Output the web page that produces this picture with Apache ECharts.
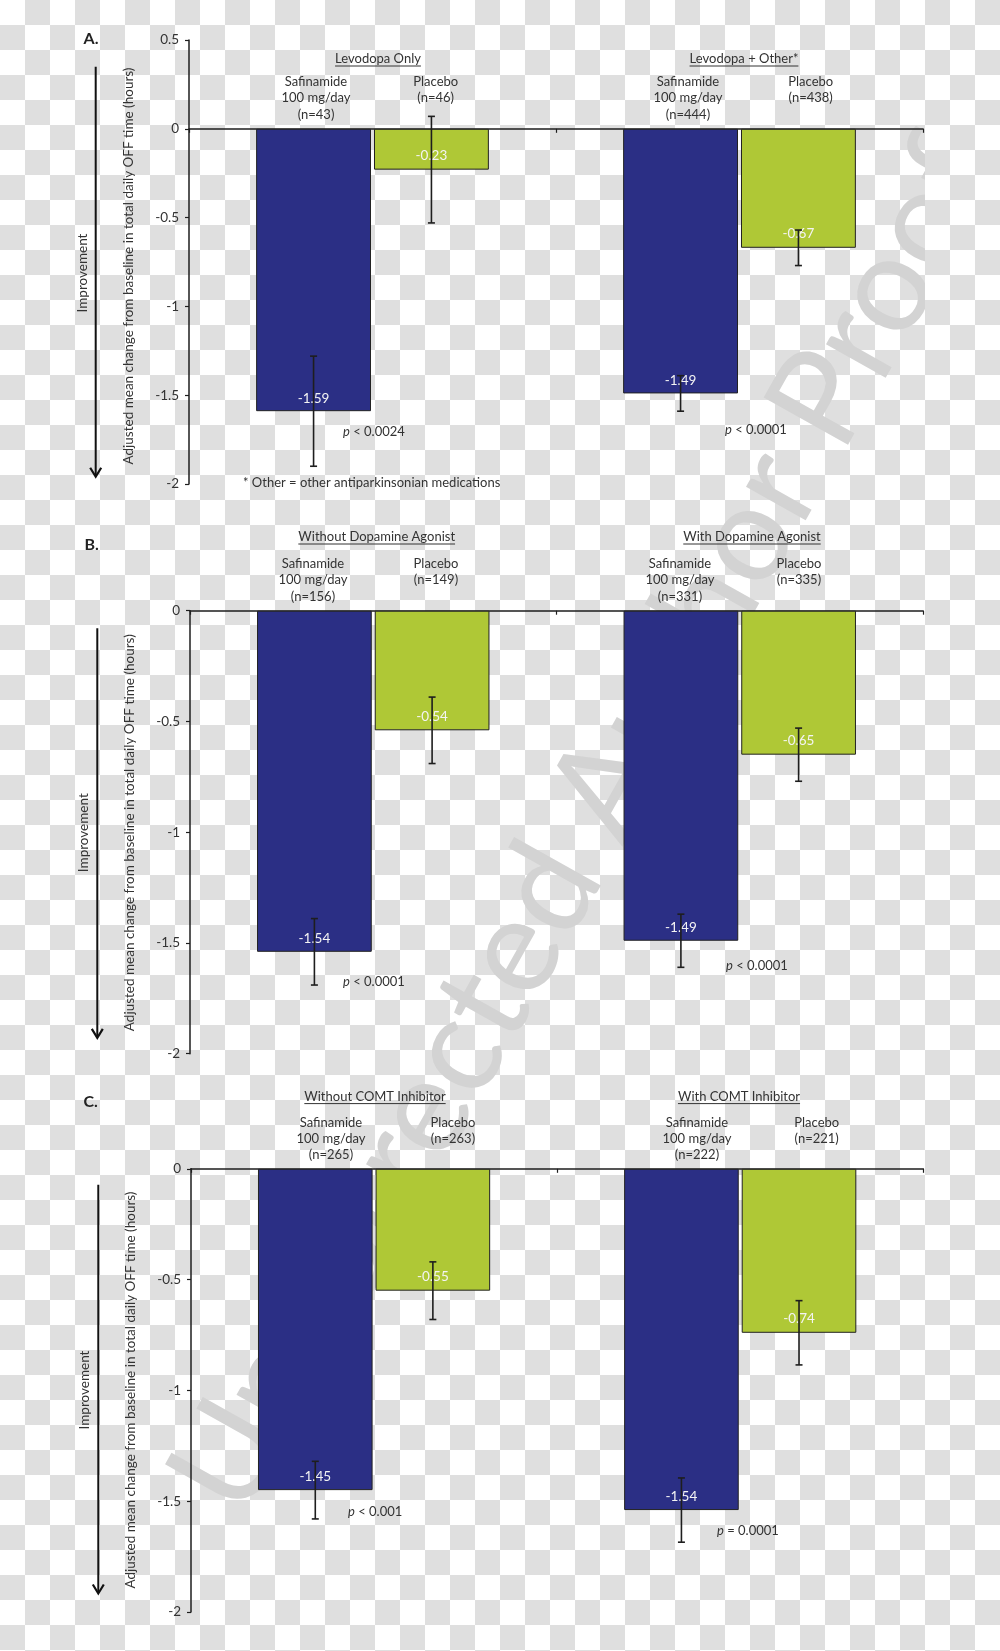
<!DOCTYPE html>
<html><head><meta charset="utf-8">
<script src="https://cdn.jsdelivr.net/npm/echarts@6/dist/echarts.min.js"></script>
<style>
html,body{margin:0;padding:0;}
body{width:1000px;height:1651px;background:repeating-conic-gradient(#dfdfdf 0 25%, #ffffff 0 50%) 0 0/50px 50px;overflow:hidden;}
#chart{width:925px;height:1651px;}
</style></head><body><div id="chart"></div>
<script>
// ---------------- DATA ----------------
const groupTitlesA = ['Levodopa Only', 'Levodopa + Other*'];
const safinamideA = [-1.59, -1.49];
const placeboA = [-0.23, -0.67];
const safinamideErrA = [0.31, 0.10];
const placeboErrA = [0.30, 0.10];
const safinamideNA = ['(n=43)', '(n=444)'];
const placeboNA = ['(n=46)', '(n=438)'];
const pValuesA = ['< 0.0024', '< 0.0001'];

const groupTitlesB = ['Without Dopamine Agonist', 'With Dopamine Agonist'];
const safinamideB = [-1.54, -1.49];
const placeboB = [-0.54, -0.65];
const safinamideErrB = [0.15, 0.12];
const placeboErrB = [0.15, 0.12];
const safinamideNB = ['(n=156)', '(n=331)'];
const placeboNB = ['(n=149)', '(n=335)'];
const pValuesB = ['< 0.0001', '< 0.0001'];

const groupTitlesC = ['Without COMT Inhibitor', 'With COMT Inhibitor'];
const safinamideC = [-1.45, -1.54];
const placeboC = [-0.55, -0.74];
const safinamideErrC = [0.13, 0.145];
const placeboErrC = [0.13, 0.145];
const safinamideNC = ['(n=265)', '(n=222)'];
const placeboNC = ['(n=263)', '(n=221)'];
const pValuesC = ['< 0.001', '= 0.0001'];

const yRangeA = [-2, 0.5];
const yRangeB = [-2, 0];
const yRangeC = [-2, 0];
const yInterval = 0.5;

const safinamideName = 'Safinamide\n100 mg/day';
const placeboName = 'Placebo';
const yAxisTitle = 'Adjusted mean change from baseline in total daily OFF time (hours)';
const improvementText = 'Improvement';
const footnoteText = '* Other = other antiparkinsonian medications';
const watermarkText = 'Uncorrected Author Proof';

// ---------------- LAYOUT / STYLE ----------------
const FONT = 'Lato, "Open Sans", sans-serif';
const TXT = '#333333';
const LINE = '#1e1e1e';
const BLUE = '#2b2f85';
const GREEN = '#afc836';
const BAR_FRAC = 0.313;
const GAP_FRAC = 0.026;

const panels = [
  { letter: 'A.', titles: groupTitlesA, saf: safinamideA, pla: placeboA, safErr: safinamideErrA, plaErr: placeboErrA,
    safN: safinamideNA, plaN: placeboNA, p: pValuesA, yr: yRangeA,
    grid: { left: 189, top: 40, width: 734, height: 444 },
    letterPos: [91, 39], titleY: 59, titleX: [378, 744], subY: 81.7, subDy: 16.5,
    safX: [316, 688], plaX: [435.7, 810.7], pPos: [[343, 432], [725, 430]],
    arrow: [95.7, 66.7, 476.7], impPos: [83, 273], yNamePos: [129, 266] },
  { letter: 'B.', titles: groupTitlesB, saf: safinamideB, pla: placeboB, safErr: safinamideErrB, plaErr: placeboErrB,
    safN: safinamideNB, plaN: placeboNB, p: pValuesB, yr: yRangeB,
    grid: { left: 190, top: 610.7, width: 733, height: 443 },
    letterPos: [91.7, 545], titleY: 537, titleX: [376.7, 752], subY: 563.7, subDy: 16.4,
    safX: [313, 680], plaX: [436, 799], pPos: [[343, 981.8], [726, 966]],
    arrow: [97.3, 628.2, 1037.9], impPos: [84, 832.7], yNamePos: [130, 832.7] },
  { letter: 'C.', titles: groupTitlesC, saf: safinamideC, pla: placeboC, safErr: safinamideErrC, plaErr: placeboErrC,
    safN: safinamideNC, plaN: placeboNC, p: pValuesC, yr: yRangeC,
    grid: { left: 191, top: 1168.8, width: 732.3, height: 443.2 },
    letterPos: [90.7, 1102.2], titleY: 1096.6, titleX: [375, 739], subY: 1122.5, subDy: 16.3,
    safX: [331, 697], plaX: [453, 816.7], pPos: [[348, 1512], [717, 1531.3]],
    arrow: [98.3, 1184.7, 1593.5], impPos: [85, 1390], yNamePos: [130.7, 1390] }
];

const measureCtx = document.createElement('canvas').getContext('2d');
function textWidth(t, font) { measureCtx.font = font; return measureCtx.measureText(t).width; }

const grids = [], xAxes = [], yAxes = [], series = [], graphics = [];

function errorRenderer(side) {
  return function (params, api) {
    const ci = api.value(0), v = api.value(1), e = api.value(2);
    const c = api.coord([ci, v]);
    const catW = api.size([1, 0])[0];
    const bw = catW * BAR_FRAC, gap = bw * GAP_FRAC;
    const x = c[0] + side * (bw + gap) / 2;
    const yT = api.coord([ci, v + e])[1];
    const yB = api.coord([ci, v - e])[1];
    const st = { stroke: LINE, lineWidth: 1.6 };
    return { type: 'group', children: [
      { type: 'line', shape: { x1: x, y1: yT, x2: x, y2: yB }, style: st },
      { type: 'line', shape: { x1: x - 3.5, y1: yT, x2: x + 3.5, y2: yT }, style: st },
      { type: 'line', shape: { x1: x - 3.5, y1: yB, x2: x + 3.5, y2: yB }, style: st }
    ] };
  };
}

panels.forEach((P, gi) => {
  grids.push(Object.assign({ containLabel: false }, P.grid));
  xAxes.push({
    gridIndex: gi, type: 'category', data: P.titles, boundaryGap: true,
    axisLine: { onZero: true, lineStyle: { color: LINE, width: 1.5 } },
    axisTick: { show: true, length: 4, lineStyle: { color: LINE, width: 1.2 } },
    axisLabel: { show: false }, splitLine: { show: false }
  });
  yAxes.push({
    gridIndex: gi, type: 'value', min: P.yr[0], max: P.yr[1], interval: yInterval,
    axisLine: { show: true, onZero: false, lineStyle: { color: LINE, width: 1.5 } },
    axisTick: { show: true, length: 4, lineStyle: { color: LINE, width: 1.2 } },
    axisLabel: { color: TXT, fontSize: 13.5, fontFamily: FONT, margin: 10 },
    splitLine: { show: false }
  });
  const lbl = { show: true, position: 'insideBottom', distance: 6, color: '#f4f4f4', fontSize: 13.5, fontFamily: FONT,
    formatter: p => p.value.toFixed(2) };
  series.push({
    type: 'bar', name: 'Safinamide', xAxisIndex: gi, yAxisIndex: gi, data: P.saf,
    barWidth: (BAR_FRAC * 100) + '%', barGap: (GAP_FRAC * 100) + '%',
    itemStyle: { color: BLUE, borderColor: '#222', borderWidth: 1 }, label: lbl, z: 2
  });
  series.push({
    type: 'bar', name: 'Placebo', xAxisIndex: gi, yAxisIndex: gi, data: P.pla,
    barWidth: (BAR_FRAC * 100) + '%', barGap: (GAP_FRAC * 100) + '%',
    itemStyle: { color: GREEN, borderColor: '#222', borderWidth: 1 }, label: Object.assign({}, lbl, { distance: 7 }), z: 2
  });
  series.push({
    type: 'custom', xAxisIndex: gi, yAxisIndex: gi, z: 5, renderItem: errorRenderer(-1),
    encode: { x: 0, y: 1 }, data: P.saf.map((v, i) => [i, v, P.safErr[i]])
  });
  series.push({
    type: 'custom', xAxisIndex: gi, yAxisIndex: gi, z: 5, renderItem: errorRenderer(1),
    encode: { x: 0, y: 1 }, data: P.pla.map((v, i) => [i, v, P.plaErr[i]])
  });

  graphics.push({ type: 'text', x: P.letterPos[0], y: P.letterPos[1], z: 100,
    style: { text: P.letter, font: 'bold 16px ' + FONT, fill: '#222', align: 'center', verticalAlign: 'middle' } });
  P.titles.forEach((t, i) => {
    const f = '13px ' + FONT;
    const w = textWidth(t, f);
    graphics.push({ type: 'text', x: P.titleX[i], y: P.titleY, z: 100,
      style: { text: t, font: f, fill: TXT, align: 'center', verticalAlign: 'middle' } });
    graphics.push({ type: 'line', z: 100, shape: { x1: P.titleX[i] - w / 2, y1: P.titleY + 7, x2: P.titleX[i] + w / 2, y2: P.titleY + 7 },
      style: { stroke: TXT, lineWidth: 1 } });
    graphics.push({ type: 'text', x: P.safX[i], y: P.subY - P.subDy / 2, z: 100,
      style: { text: safinamideName + '\n' + P.safN[i], font: f, fill: TXT, align: 'center', verticalAlign: 'top', lineHeight: P.subDy } });
    graphics.push({ type: 'text', x: P.plaX[i], y: P.subY - P.subDy / 2, z: 100,
      style: { text: placeboName + '\n' + P.plaN[i], font: f, fill: TXT, align: 'center', verticalAlign: 'top', lineHeight: P.subDy } });
    graphics.push({ type: 'text', x: P.pPos[i][0], y: P.pPos[i][1], z: 100,
      style: { text: '{i|p} ' + P.p[i], font: f, fill: TXT, align: 'left', verticalAlign: 'middle',
        rich: { i: { fontStyle: 'italic', fontSize: 13, fontFamily: FONT, fill: TXT } } } });
  });
  graphics.push({ type: 'text', x: P.yNamePos[0], y: P.yNamePos[1], rotation: Math.PI / 2, z: 100,
    style: { text: yAxisTitle, font: '13.5px ' + FONT, fill: TXT, align: 'center', verticalAlign: 'middle' } });
  graphics.push({ type: 'text', x: P.impPos[0], y: P.impPos[1], rotation: Math.PI / 2, z: 100,
    style: { text: improvementText, font: '13.5px ' + FONT, fill: TXT, align: 'center', verticalAlign: 'middle' } });
  const [ax, ay1, ay2] = P.arrow;
  graphics.push({ type: 'line', z: 100, shape: { x1: ax, y1: ay1, x2: ax, y2: ay2 - 1 }, style: { stroke: '#111', lineWidth: 2 } });
  graphics.push({ type: 'polyline', z: 100, shape: { points: [[ax - 5.5, ay2 - 9], [ax, ay2], [ax + 5.5, ay2 - 9]] },
    style: { stroke: '#111', lineWidth: 2.2, fill: null } });
});

graphics.push({ type: 'text', x: 243, y: 483, z: 100,
  style: { text: footnoteText, font: '13px ' + FONT, fill: TXT, align: 'left', verticalAlign: 'middle' } });

graphics.push({ type: 'text', x: 206, y: 1500, rotation: 60.7 * Math.PI / 180, z: -10, silent: true,
  style: { text: watermarkText, font: '135px ' + FONT, fill: '#d3d3d3', align: 'left', verticalAlign: 'middle' } });

const chart = echarts.init(document.getElementById('chart'), null, { renderer: 'canvas' });
chart.setOption({
  backgroundColor: 'transparent',
  animation: false,
  textStyle: { fontFamily: FONT },
  grid: grids, xAxis: xAxes, yAxis: yAxes, series: series,
  graphic: { elements: graphics }
});
</script></body></html>
